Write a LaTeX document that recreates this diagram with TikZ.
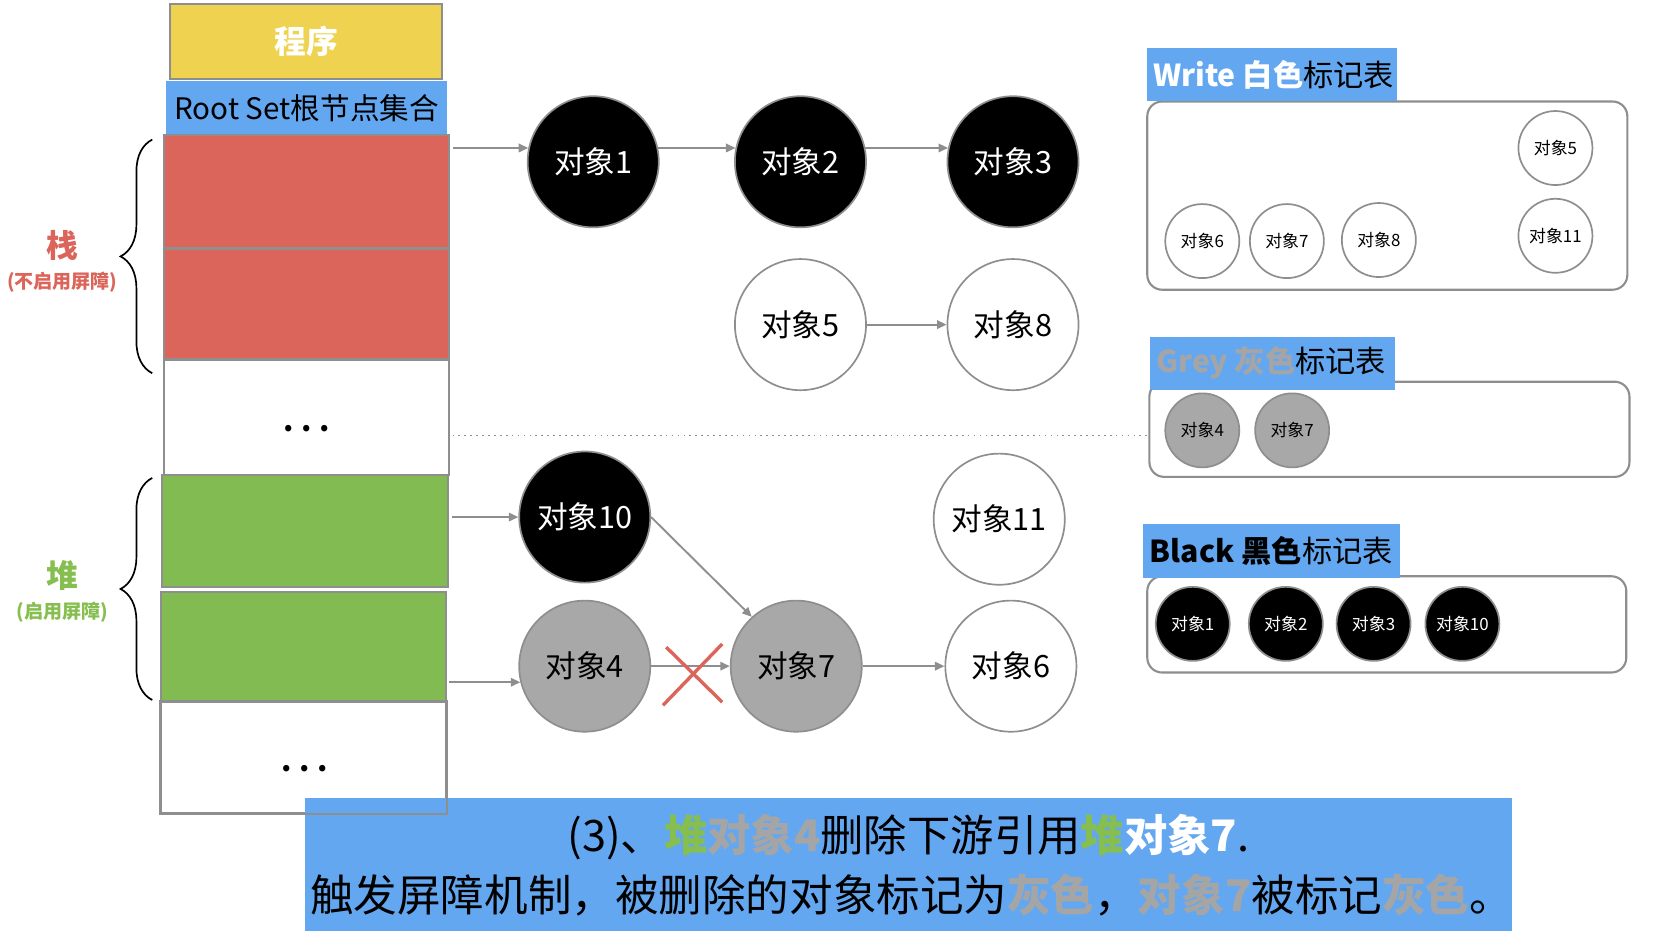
\documentclass[tikz,border=0pt]{standalone}
\usepackage{fontspec}
\setmainfont{Noto Sans CJK SC}
\usetikzlibrary{arrows.meta,decorations.pathreplacing}
\definecolor{cyel}{HTML}{EFD350}
\definecolor{cblue}{HTML}{64A7F1}
\definecolor{cred}{HTML}{DC655B}
\definecolor{cgreen}{HTML}{83BB53}
\definecolor{cgrayf}{HTML}{A7A8A7}
\definecolor{cline}{HTML}{8E8E8E}
\definecolor{ctxtgray}{HTML}{A5A5A5}
\definecolor{cgreentxt}{HTML}{86BE4F}
\tikzset{
  cell/.style={draw=cline, line width=1pt, inner sep=0pt, minimum width=135pt},
  bigobj/.style={circle, minimum size=62pt, inner sep=0pt, draw=cline, line width=0.8pt, font=\fontsize{14.5}{16}\selectfont},
  blackobj/.style={bigobj, fill=black, text=white},
  whiteobj/.style={bigobj, fill=white, text=black},
  grayobj/.style={bigobj, fill=cgrayf, text=black},
  smallobj/.style={circle, minimum size=35pt, inner sep=0pt, draw=cline, line width=0.8pt, font=\fontsize{8}{9}\selectfont},
  sblack/.style={smallobj, fill=black, text=white},
  swhite/.style={smallobj, fill=white, text=black},
  sgray/.style={smallobj, fill=cgrayf, text=black},
  link/.style={draw=cline, line width=0.9pt, -{Triangle[length=4.5pt,width=4pt]}},
  tablebox/.style={draw=cline, line width=1pt, rounded corners=7pt, fill=white, inner sep=0pt},
  tlabel/.style={fill=cblue, inner sep=0pt, anchor=north west},
  tlabeltext/.style={anchor=west, inner sep=0pt, font=\fontsize{14.3}{16}\selectfont},
  dots/.style={font=\fontsize{14}{14}\selectfont\bfseries},
  bracestyle/.style={decorate, decoration={brace, amplitude=15pt}, line width=0.8pt}
}
\begin{document}
\begin{tikzpicture}[x=0.5pt, y=-0.5pt]
\useasboundingbox (0,0) rectangle (1568,887);

% left column
\node[cell, fill=cyel, minimum width=128.5pt, minimum height=35.5pt, text=white, font=\fontsize{15}{16}\selectfont\bfseries] (prog) at (289.5,39.5) {程序};
\node[fill=cblue, inner sep=0pt, minimum width=133pt, minimum height=25pt, font=\fontsize{14}{15}\selectfont] (root) at (290,102) {Root Set根节点集合};
\node[cell, fill=cred, minimum height=53.5pt] (red1) at (290,181.5) {};
\node[cell, fill=cred, minimum height=52.5pt] (red2) at (290,287.5) {};
\node[cell, fill=white, minimum height=54.5pt] (wh1) at (290,394.5) {};
\node[dots] (dots1) at (290,405) {.\hspace{3.5pt}.\hspace{3.5pt}.};
\node[cell, fill=cgreen, minimum width=135.5pt, minimum height=53pt] (gr1) at (288.5,502) {};
\node[cell, fill=cgreen, minimum height=52pt] (gr2) at (287,612) {};
\node[cell, fill=white, minimum height=52.5pt] (wh2) at (287,716.5) {};
\node[dots] (dots2) at (288,727) {.\hspace{3.5pt}.\hspace{3.5pt}.};

% braces and labels
\coordinate (sb1) at (144,353);
\coordinate (sb2) at (144,132);
\draw[bracestyle] (sb1) -- (sb2);
\node[text=cred, font=\fontsize{15}{16}\selectfont\bfseries] (zhan) at (59,232) {栈};
\node[text=cred, font=\fontsize{9}{10}\selectfont\bfseries] (zhan2) at (59,267) {(不启用屏障)};
\coordinate (hb1) at (144,662);
\coordinate (hb2) at (144,452);
\draw[bracestyle] (hb1) -- (hb2);
\node[text=cgreentxt, font=\fontsize{15}{16}\selectfont\bfseries] (dui) at (59,544) {堆};
\node[text=cgreentxt, font=\fontsize{9}{10}\selectfont\bfseries] (dui2) at (59,579) {(启用屏障)};

% dotted separator
\coordinate (dl) at (428,412);
\coordinate (dr) at (1085,412);
\draw[cline, dotted, line width=0.8pt] (dl) -- (dr);

% objects
\node[blackobj] (o1) at (561,153) {对象1};
\node[blackobj] (o2) at (757,153) {对象2};
\node[blackobj] (o3) at (958,153) {对象3};
\node[whiteobj] (o5) at (757,307) {对象5};
\node[whiteobj] (o8) at (958,307) {对象8};
\node[blackobj] (o10) at (553,489) {对象10};
\node[whiteobj] (o11) at (945,491) {对象11};
\node[grayobj] (o4) at (553,630) {对象4};
\node[grayobj] (o7) at (753,630) {对象7};
\node[whiteobj] (o6) at (956,630) {对象6};

% links
\draw[link] ([xshift=1pt]red1.east |- o1.168) -- (o1.168);
\draw[link] (o1.12) -- (o2.168);
\draw[link] (o2.12) -- (o3.168);
\draw[link] (o5.east) -- (o8.west);
\draw[link] ([xshift=1pt]gr1.east |- o10.west) -- (o10.west);
\draw[link] (o10.east) -- (o7.132);
\draw[link] ([xshift=1pt]gr2.east |- o4.194) -- (o4.194);
\draw[link] (o4.east) -- (o7.west);
\draw[link] (o7.east) -- (o6.west);

% red cross
\coordinate (xa) at (627,667);
\coordinate (xb) at (683,609);
\coordinate (xc) at (630,612);
\coordinate (xd) at (683,664);
\draw[cred, line width=1.6pt] (xa) -- (xb);
\draw[cred, line width=1.6pt] (xc) -- (xd);

% Write table
\node[tablebox, minimum width=227pt, minimum height=89pt, anchor=north west] (wbox) at (1084,95) {};
\node[tlabel, minimum width=118.5pt, minimum height=25pt] (wlab) at (1084,45) {};
\node[tlabeltext] (wlabt) at ([xshift=3pt]wlab.west) {\textcolor{white}{\bfseries Write 白色}标记表};
\node[swhite] (w6) at (1137,228) {对象6};
\node[swhite] (w7) at (1217,228) {对象7};
\node[swhite] (w8) at (1304,227) {对象8};
\node[swhite] (w5) at (1471,140) {对象5};
\node[swhite] (w11) at (1471,223) {对象11};

% Grey table
\node[tablebox, minimum width=227pt, minimum height=45pt, anchor=north west] (gbox) at (1086,360) {};
\node[tlabel, minimum width=116pt, minimum height=25pt] (glab) at (1087,318) {};
\node[tlabeltext] (glabt) at ([xshift=3pt]glab.west) {\textcolor{ctxtgray}{\bfseries Grey 灰色}标记表};
\node[sgray] (g4) at (1137,407) {对象4};
\node[sgray] (g7) at (1222,407) {对象7};

% Black table
\node[tablebox, minimum width=226.5pt, minimum height=45.5pt, anchor=north west] (bbox) at (1084,544) {};
\node[tlabel, minimum width=121.5pt, minimum height=25.5pt] (blab) at (1081,495) {};
\node[tlabeltext] (blabt) at ([xshift=3pt]blab.west) {{\bfseries Black 黑色}标记表};
\node[sblack] (b1) at (1128,590) {对象1};
\node[sblack] (b2) at (1216,590) {对象2};
\node[sblack] (b3) at (1299,590) {对象3};
\node[sblack] (b10) at (1383,590) {对象10};

% banner
\node[fill=cblue, inner sep=0pt, minimum width=571pt, minimum height=62.5pt] (banner) at (859,817.5) {};
\draw[cline, line width=1pt] (wh2.south west) rectangle (wh2.north east);
\node[font=\fontsize{20.5}{22}\selectfont, inner sep=0pt] (line1) at (859,792) {(3)、\textcolor{cgreentxt}{\bfseries 堆}\textcolor{ctxtgray}{\bfseries 对象4}删除下游引用\textcolor{cgreentxt}{\bfseries 堆}\textcolor{white}{\bfseries 对象7}.};
\node[font=\fontsize{20.6}{22}\selectfont, inner sep=0pt, anchor=west] (line2) at (293,846) {触发屏障机制，被删除的对象标记为\textcolor{ctxtgray}{\bfseries 灰色}，\textcolor{ctxtgray}{\bfseries 对象7}被标记\textcolor{ctxtgray}{\bfseries 灰色}。};
\end{tikzpicture}
\end{document}
